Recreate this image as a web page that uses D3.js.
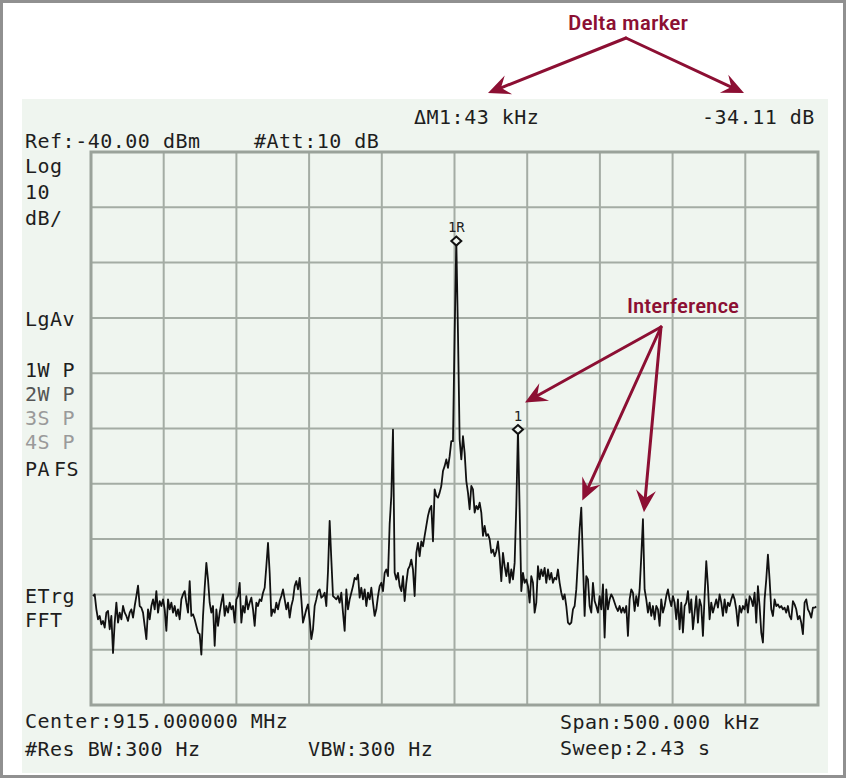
<!DOCTYPE html>
<html>
<head>
<meta charset="utf-8">
<script src="https://cdnjs.cloudflare.com/ajax/libs/d3/7.8.5/d3.min.js"></script>
<style>
body { margin: 0; background: #fff; }
svg { display: block; }
</style>
</head>
<body>
<svg id="chart"></svg>
<script>
var width = 846, height = 778;

// trace, dBm, equally spaced in frequency
var trace = [
  -120.3, -120.0, -122.7, -124.5, -123.9, -125.4, -124.8, -126.0, -123.3, -123.0,
  -126.3, -123.9, -130.6, -125.1, -121.5, -125.1, -123.3, -124.5, -122.1, -123.3,
  -123.9, -124.8, -123.3, -122.7, -124.2, -122.1, -120.3, -118.4, -122.1, -122.4,
  -123.3, -125.7, -128.1, -122.7, -124.5, -122.1, -120.9, -122.7, -119.4, -123.3,
  -121.2, -122.1, -120.9, -122.7, -126.6, -120.9, -122.7, -121.5, -123.3, -122.1,
  -123.9, -122.7, -124.5, -120.9, -120.0, -119.4, -121.5, -123.3, -117.6, -123.9,
  -123.6, -124.5, -125.7, -126.9, -127.2, -130.9, -123.9, -118.8, -114.3, -117.3,
  -121.5, -123.3, -122.1, -129.3, -122.7, -125.7, -123.3, -121.5, -120.0, -123.9,
  -122.1, -123.3, -121.5, -122.7, -122.1, -125.1, -120.9, -120.3, -117.9,
  -125.1, -122.1, -123.3, -120.3, -122.7, -121.5, -120.6, -122.7, -125.7, -121.5,
  -122.1, -120.9, -121.2, -119.7, -118.8, -114.9, -110.7, -116.1, -123.9, -122.7,
  -123.3, -121.5, -122.7, -121.2, -120.3, -119.1, -120.9, -122.7, -121.5, -124.2,
  -122.1, -120.9, -118.5, -117.6, -119.1, -117.0, -120.9, -125.1, -123.9, -122.7,
  -121.8, -124.5, -128.1, -126.3, -122.1, -120.9, -119.4, -119.1, -120.6, -120.3,
  -119.7, -122.1, -115.8, -106.7, -113.7, -120.3, -120.6, -120.9, -120.3, -121.5,
  -119.7, -123.3, -126.6, -119.1, -122.7, -120.9, -119.7, -118.5, -117.0, -117.3,
  -116.4, -120.6, -118.8, -120.9, -119.1, -122.1, -119.7, -120.9, -118.8, -121.5,
  -123.9, -122.7, -120.3, -118.5, -117.9, -119.4, -116.1, -115.5,
  -116.7, -107.3, -102.2, -90.2, -116.1, -117.3, -116.1, -118.5, -119.4, -116.7,
  -121.2, -117.9, -115.5, -114.9, -113.7, -115.5, -120.3, -112.5, -110.7, -113.1,
  -110.4, -111.3, -109.4, -107.6, -105.8, -104.6, -104.0, -110.4, -101.0, -102.2,
  -102.5, -101.6, -100.4, -97.7, -96.8, -95.6, -97.1, -95.0, -92.3, -92.3,
  -72.8, -56.1, -72.8, -92.0, -95.6, -91.4, -94.4, -99.5, -101.6, -104.6,
  -100.4, -101.0, -105.2, -104.0, -104.6, -103.4, -105.2, -109.4, -107.6, -109.4,
  -109.1, -110.0, -112.5, -111.9, -113.1, -112.2, -110.4, -113.4, -117.6, -112.5,
  -114.9, -116.7, -114.3, -117.9, -115.5, -117.3, -114.3, -104.0, -90.2, -104.6,
  -119.4, -116.1, -117.9, -117.3, -118.5, -121.5, -116.7, -117.9, -123.3,
  -121.5, -114.9, -117.3, -115.5, -116.7, -115.2, -117.9, -115.5, -117.3, -116.1,
  -117.9, -117.0, -117.3, -115.5, -117.9, -119.7, -120.9, -120.0, -122.1, -125.1,
  -125.4, -125.1, -122.7, -122.1, -119.1, -113.7, -108.2, -104.3, -114.3, -123.9,
  -116.7, -117.3, -122.1, -123.3, -117.9, -121.2, -122.1, -123.3, -120.3, -122.7,
  -118.2, -127.8, -119.1, -122.7, -120.9, -120.0, -120.6, -121.5, -122.4, -123.0,
  -122.1, -123.3, -122.4, -123.3, -122.1, -127.5, -120.9, -119.1, -119.7, -123.0,
  -120.3, -122.1, -119.1, -113.1, -106.4, -119.1, -120.9, -123.3, -121.5, -123.9,
  -122.1, -124.5, -122.1, -122.7, -125.7, -120.9, -123.3, -122.1, -120.3, -119.1,
  -120.9, -122.1, -120.3, -121.5, -124.5, -120.9, -126.3, -121.5, -126.9, -122.1,
  -121.5, -119.4, -123.3, -120.9, -126.3, -123.3, -120.3, -125.1, -120.9, -122.1,
  -127.5, -120.3, -114.0, -118.5, -124.5, -121.5, -123.3, -122.1, -120.9, -122.4,
  -120.0, -121.5, -123.9, -120.9, -123.3, -121.5, -122.1, -120.9, -120.0, -120.9,
  -122.7, -125.7, -122.1, -123.3, -122.1, -122.7, -120.9, -123.3, -120.3, -120.9,
  -122.1, -119.7, -125.1, -118.5, -122.1, -126.9, -128.7, -120.9, -117.3, -112.8,
  -117.3, -122.7, -123.9, -120.9, -122.1, -121.8, -122.4, -122.1, -122.7, -122.4,
  -123.3, -122.1, -123.9, -124.5, -121.2, -121.8, -122.7, -124.5, -123.9, -125.1,
  -127.2, -121.5, -120.9, -122.7, -123.3, -124.2, -122.4, -122.4, -122.2
];
var traceStartKHz = -248.6, traceStopKHz = 248.8;
var spanKHz = [-250, 250];
var refLevel = -40, dbPerDiv = 10, nDiv = 10;

// markers and the peaks the notes point at (indices into trace)
var refMarkerIdx = 218, deltaMarkerIdx = 255;
var interferenceIdx = [255, 293, 330];

var topReadout = ["\u0394M1:43 kHz", "-34.11 dB"];
var headerLabels = ["Ref:-40.00 dBm", "#Att:10 dB"];
var scaleLabels = ["Log", "10", "dB/"];
var statusLabels = ["1W P", "2W P", "3S P", "4S P"];
var footerLabels = ["Center:915.000000 MHz", "#Res BW:300 Hz", "VBW:300 Hz", "Span:500.000 kHz", "Sweep:2.43 s"];

var panelColor = "#eff5ef", gridColor = "#a4aca4", noteColor = "#8c0f33";
var mono = "'DejaVu Sans Mono', 'Liberation Mono', monospace";

var svg = d3.select("#chart").attr("width", width).attr("height", height);

svg.append("rect").attr("x", 1.5).attr("y", 1.5)
    .attr("width", width - 3).attr("height", height - 3)
    .attr("fill", "#fff").attr("stroke", "#909090").attr("stroke-width", 3);

svg.append("rect").attr("x", 22).attr("y", 99)
    .attr("width", 806).attr("height", 674)
    .attr("fill", panelColor);

var plot = {left: 91, right: 818, top: 152, bottom: 705};

var x = d3.scaleLinear().domain(spanKHz).range([plot.left, plot.right]);
var y = d3.scaleLinear().domain([refLevel - dbPerDiv * nDiv, refLevel]).range([plot.bottom, plot.top]);
var idxToKHz = d3.scaleLinear().domain([0, trace.length - 1]).range([traceStartKHz, traceStopKHz]);

// graticule
var g = svg.append("g");
g.selectAll(".vline").data(d3.range(1, nDiv)).enter().append("line")
    .attr("x1", function(d){ return x(spanKHz[0] + d * (spanKHz[1] - spanKHz[0]) / nDiv); })
    .attr("x2", function(d){ return x(spanKHz[0] + d * (spanKHz[1] - spanKHz[0]) / nDiv); })
    .attr("y1", plot.top).attr("y2", plot.bottom)
    .attr("stroke", gridColor).attr("stroke-width", 2);
g.selectAll(".hline").data(d3.range(1, nDiv)).enter().append("line")
    .attr("y1", function(d){ return y(refLevel - d * dbPerDiv); })
    .attr("y2", function(d){ return y(refLevel - d * dbPerDiv); })
    .attr("x1", plot.left).attr("x2", plot.right)
    .attr("stroke", gridColor).attr("stroke-width", 2);
g.append("rect").attr("x", plot.left).attr("y", plot.top)
    .attr("width", plot.right - plot.left).attr("height", plot.bottom - plot.top)
    .attr("fill", "none").attr("stroke", "#9aa29a").attr("stroke-width", 3);

// trace
var line = d3.line()
    .x(function(d, i){ return x(idxToKHz(i)); })
    .y(function(d){ return y(d); });
svg.append("path").datum(trace)
    .attr("d", line)
    .attr("fill", "none").attr("stroke", "#111")
    .attr("stroke-width", 1.8).attr("stroke-linejoin", "round");

// markers
function px(i){ return x(idxToKHz(i)); }
function py(i){ return y(trace[i]); }
[{i: refMarkerIdx, t: "1R"}, {i: deltaMarkerIdx, t: "1"}].forEach(function(m){
    var cx = px(m.i), cy = py(m.i);
    svg.append("path")
        .attr("d", "M" + cx + "," + (cy - 4.5) + "L" + (cx + 5) + "," + cy + "L" + cx + "," + (cy + 4.5) + "L" + (cx - 5) + "," + cy + "Z")
        .attr("fill", panelColor).attr("stroke", "#111").attr("stroke-width", 2);
    svg.append("text").attr("x", cx).attr("y", cy - 9)
        .attr("text-anchor", "middle")
        .style("font-family", mono).style("font-size", "14px").style("fill", "#222")
        .text(m.t);
});

// screen text
function monoText(tx, ty, s, color){
    return svg.append("text").attr("x", tx).attr("y", ty)
        .style("font-family", mono).style("font-size", "20px")
        .style("letter-spacing", "0.5px").style("fill", color || "#1e1e1e")
        .text(s);
}
monoText(414, 124, topReadout[0]);
monoText(702, 124, topReadout[1]);
monoText(25, 148, headerLabels[0]);
monoText(254, 148, headerLabels[1]);
scaleLabels.forEach(function(s, i){ monoText(25, 173 + i * 26, s); });
monoText(25, 326, "LgAv");
var statusColor = ["#1e1e1e", "#555", "#9a9a9a", "#9a9a9a"];
statusLabels.forEach(function(s, i){ monoText(25, 377 + i * 24, s, statusColor[i]); });
monoText(25, 476, "PA");
monoText(54, 476, "FS");
monoText(25, 603, "ETrg");
monoText(25, 627, "FFT");
monoText(25, 728, footerLabels[0]);
monoText(25, 756, footerLabels[1]);
monoText(308, 756, footerLabels[2]);
monoText(560, 729, footerLabels[3]);
monoText(560, 755, footerLabels[4]);

// annotations
function arrow(x1, y1, x2, y2){
    var a = Math.atan2(y2 - y1, x2 - x1);
    var len = 22, half = 10, notch = 14;
    var bx = x2 - Math.cos(a) * len, by = y2 - Math.sin(a) * len;
    var nx = x2 - Math.cos(a) * notch, ny = y2 - Math.sin(a) * notch;
    var ox = -Math.sin(a) * half, oy = Math.cos(a) * half;
    svg.append("line").attr("x1", x1).attr("y1", y1).attr("x2", nx).attr("y2", ny)
        .attr("stroke", noteColor).attr("stroke-width", 3).attr("stroke-linecap", "round");
    svg.append("path")
        .attr("d", "M" + x2 + "," + y2 + "L" + (bx + ox) + "," + (by + oy) + "L" + nx + "," + ny + "L" + (bx - ox) + "," + (by - oy) + "Z")
        .attr("fill", noteColor);
}
var noteFont = "'Roboto Condensed', 'Liberation Sans Narrow', Roboto, sans-serif";
svg.append("text").attr("x", 568).attr("y", 30)
    .attr("textLength", 120).attr("lengthAdjust", "spacingAndGlyphs")
    .style("font-family", noteFont).style("font-size", "21px").style("font-weight", 500)
    .style("fill", noteColor).text("Delta marker");
arrow(626, 38, 488, 93);
arrow(626, 38, 744, 93);

svg.append("text").attr("x", 627).attr("y", 313)
    .attr("textLength", 112).attr("lengthAdjust", "spacingAndGlyphs")
    .style("font-family", noteFont).style("font-size", "21px").style("font-weight", 500)
    .style("fill", noteColor).text("Interference");
interferenceIdx.forEach(function(i, k){
    if (i === deltaMarkerIdx) arrow(661, 327, px(i) + 7, py(i) - 27);
    else arrow(661, 327, px(i) + 1, py(i) - 7);
});
</script>
</body>
</html>
